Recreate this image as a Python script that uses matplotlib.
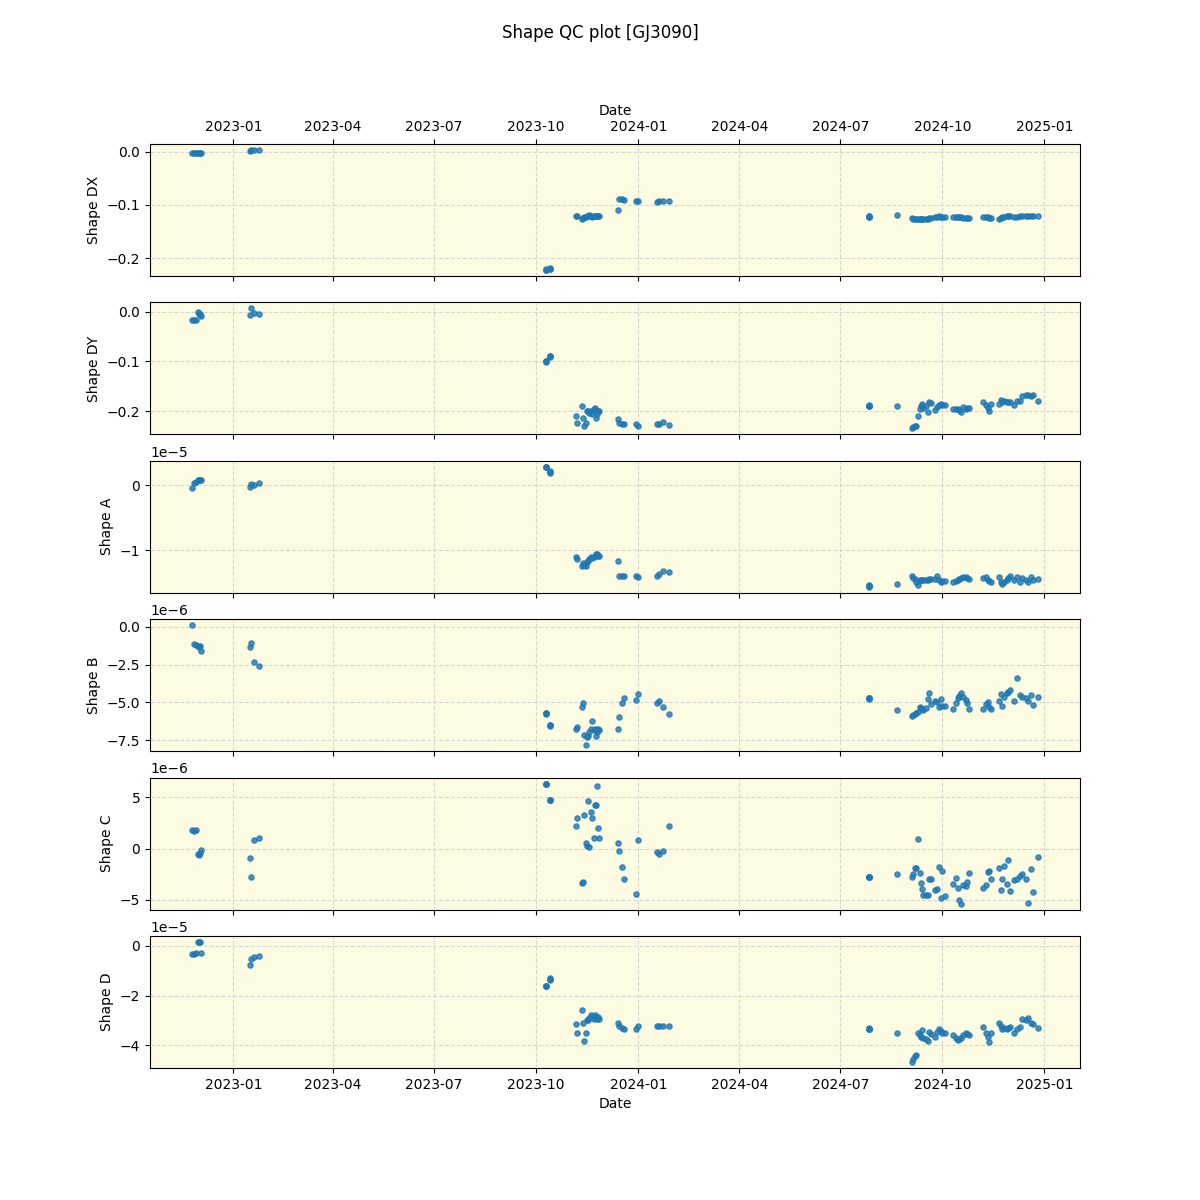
import numpy as np
import pandas as pd
import matplotlib
matplotlib.use("Agg")
import matplotlib.pyplot as plt

TARGET = "GJ3090"
OUT_FILE = "out.png"

# observation dates (one entry per exposure)
obs_dates = [
    # late 2022
    "2022-11-25", "2022-11-27", "2022-11-28", "2022-11-30", "2022-12-01", "2022-12-02", "2022-12-03",
    # Jan 2023
    "2023-01-16", "2023-01-17", "2023-01-20", "2023-01-24",
    # Oct 2023
    "2023-10-10", "2023-10-10", "2023-10-10", "2023-10-13", "2023-10-13", "2023-10-13",
    # Nov 2023
    "2023-11-06", "2023-11-07", "2023-11-11", "2023-11-12", "2023-11-13", "2023-11-15", "2023-11-16",
    "2023-11-17", "2023-11-18", "2023-11-19", "2023-11-20", "2023-11-22", "2023-11-23", "2023-11-24",
    "2023-11-25", "2023-11-26", "2023-11-27",
    # Dec 2023 - Jan 2024
    "2023-12-14", "2023-12-15", "2023-12-17", "2023-12-19", "2023-12-30", "2024-01-01",
    "2024-01-18", "2024-01-20", "2024-01-23", "2024-01-29",
    # Jul - Aug 2024
    "2024-07-27", "2024-07-27", "2024-07-27", "2024-07-27", "2024-08-21",
    # Sep - Dec 2024
    "2024-09-04", "2024-09-05", "2024-09-06", "2024-09-07", "2024-09-09", "2024-09-11", "2024-09-12",
    "2024-09-13", "2024-09-14", "2024-09-16", "2024-09-18", "2024-09-19", "2024-09-21", "2024-09-24",
    "2024-09-26", "2024-09-28", "2024-09-30", "2024-10-01", "2024-10-03", "2024-10-11", "2024-10-13",
    "2024-10-15", "2024-10-16", "2024-10-18", "2024-10-20", "2024-10-22", "2024-10-23", "2024-10-25",
    "2024-11-07", "2024-11-09", "2024-11-11", "2024-11-12", "2024-11-14", "2024-11-21", "2024-11-23",
    "2024-11-24", "2024-11-26", "2024-11-28", "2024-11-29", "2024-12-01", "2024-12-05", "2024-12-07",
    "2024-12-10", "2024-12-12", "2024-12-15", "2024-12-17", "2024-12-20", "2024-12-22", "2024-12-26",
]

shape_dx = [
    -0.003, -0.003, -0.002, -0.003, -0.002, -0.003, -0.003,
    0.002, 0.003, 0.003, 0.003,
    -0.222, -0.221, -0.222, -0.220, -0.221, -0.219,
    -0.121, -0.121, -0.126, -0.125, -0.123, -0.122, -0.121,
    -0.120, -0.118, -0.121, -0.122, -0.120, -0.121, -0.121,
    -0.121, -0.121, -0.121,
    -0.110, -0.089, -0.088, -0.090, -0.092, -0.093,
    -0.094, -0.093, -0.092, -0.092,
    -0.121, -0.122, -0.121, -0.122, -0.119,
    -0.125, -0.126, -0.126, -0.127, -0.126, -0.126, -0.127,
    -0.126, -0.127, -0.126, -0.127, -0.124, -0.124, -0.122,
    -0.122, -0.121, -0.122, -0.123, -0.123, -0.122, -0.123,
    -0.123, -0.123, -0.123, -0.124, -0.124, -0.124, -0.124,
    -0.122, -0.123, -0.123, -0.124, -0.124, -0.126, -0.125,
    -0.123, -0.122, -0.121, -0.121, -0.120, -0.122, -0.123,
    -0.120, -0.121, -0.121, -0.120, -0.120, -0.120, -0.120,
]

shape_dy = [
    -0.017, -0.016, -0.017, -0.001, -0.005, -0.004, -0.009,
    -0.007, 0.007, -0.003, -0.005,
    -0.100, -0.099, -0.101, -0.090, -0.092, -0.088,
    -0.211, -0.225, -0.190, -0.214, -0.230, -0.225, -0.199,
    -0.199, -0.203, -0.200, -0.205, -0.195, -0.193, -0.214,
    -0.205, -0.200, -0.200,
    -0.216, -0.225, -0.226, -0.227, -0.226, -0.230,
    -0.226, -0.226, -0.222, -0.229,
    -0.189, -0.188, -0.190, -0.189, -0.189,
    -0.235, -0.233, -0.231, -0.230, -0.211, -0.195, -0.190,
    -0.185, -0.193, -0.190, -0.201, -0.181, -0.183, -0.197,
    -0.191, -0.188, -0.186, -0.187, -0.187, -0.195, -0.195,
    -0.196, -0.198, -0.201, -0.191, -0.195, -0.193, -0.193,
    -0.181, -0.188, -0.193, -0.199, -0.186, -0.185, -0.177,
    -0.181, -0.179, -0.181, -0.181, -0.181, -0.188, -0.179,
    -0.179, -0.170, -0.168, -0.168, -0.170, -0.168, -0.180,
]

# Shape A, in units of 1e-5
shape_a = [
    -0.05, 0.03, 0.05, 0.07, 0.075, 0.08, 0.08,
    -0.035, 0.015, 0.0, 0.025,
    0.28, 0.27, 0.28, 0.19, 0.21, 0.20,
    -1.11, -1.14, -1.24, -1.20, -1.22, -1.24, -1.18,
    -1.16, -1.14, -1.10, -1.12, -1.10, -1.09, -1.06,
    -1.06, -1.09, -1.09,
    -1.17, -1.39, -1.40, -1.40, -1.39, -1.41,
    -1.39, -1.36, -1.32, -1.34,
    -1.55, -1.56, -1.55, -1.54, -1.52,
    -1.40, -1.42, -1.44, -1.48, -1.53, -1.45, -1.46,
    -1.46, -1.45, -1.45, -1.45, -1.44, -1.44, -1.44,
    -1.39, -1.45, -1.48, -1.47, -1.47, -1.49, -1.47,
    -1.46, -1.44, -1.43, -1.41, -1.41, -1.43, -1.44,
    -1.43, -1.41, -1.45, -1.47, -1.49, -1.41, -1.48,
    -1.52, -1.48, -1.45, -1.42, -1.40, -1.45, -1.41,
    -1.48, -1.43, -1.45, -1.49, -1.41, -1.45, -1.44,
]

# Shape B, in units of 1e-6
shape_b = [
    0.10, -1.15, -1.19, -1.26, -1.35, -1.30, -1.61,
    -1.35, -1.05, -2.34, -2.56,
    -5.72, -5.75, -5.70, -6.50, -6.48, -6.52,
    -6.78, -6.61, -5.28, -5.06, -7.16, -7.82, -7.27,
    -7.20, -6.94, -6.78, -6.23, -6.80, -6.78, -7.23,
    -6.94, -6.78, -6.80,
    -6.78, -5.95, -5.06, -4.73, -4.84, -4.46,
    -5.06, -4.90, -5.32, -5.79,
    -4.73, -4.70, -4.76, -4.73, -5.52,
    -5.88, -5.82, -5.79, -5.72, -5.66, -5.28, -5.35,
    -5.44, -5.52, -5.35, -4.77, -4.40, -5.13, -4.91,
    -4.99, -5.28, -4.77, -5.22, -5.22, -5.44, -5.06,
    -4.69, -4.55, -4.40, -4.62, -4.84, -5.06, -5.44,
    -5.44, -5.13, -4.99, -5.30, -5.40, -4.91, -4.46,
    -5.22, -4.62, -4.40, -4.30, -4.18, -4.91, -3.36,
    -4.51, -4.62, -4.69, -4.91, -4.51, -5.17, -4.62,
]

# Shape C, in units of 1e-6
shape_c = [
    1.86, 1.76, 1.80, -0.52, -0.59, -0.45, -0.13,
    -0.91, -2.77, 0.85, 1.05,
    6.34, 6.30, 6.36, 4.77, 4.80, 4.75,
    2.25, 3.00, -3.36, -3.26, 3.26, 0.55, 0.25,
    4.70, 0.17, 3.60, 3.00, 1.05, 4.31, 4.31,
    6.14, 2.03, 1.05,
    0.55, -0.23, -1.80, -2.97, -4.41, 0.85,
    -0.33, -0.52, -0.23, 2.25,
    -2.76, -2.74, -2.78, -2.76, -2.48,
    -2.81, -2.50, -1.90, -1.90, 0.95, -2.38, -3.36,
    -3.95, -4.51, -4.51, -4.51, -2.97, -2.97, -4.02,
    -3.95, -1.79, -4.83, -2.22, -4.61, -3.46, -2.87,
    -3.85, -5.06, -5.39, -3.53, -3.69, -3.26, -2.38,
    -3.85, -3.53, -2.28, -2.16, -2.94, -1.90, -4.08,
    -2.94, -1.73, -3.46, -1.11, -4.12, -3.04, -2.94,
    -2.65, -2.48, -2.94, -5.32, -1.99, -4.25, -0.81,
]

# Shape D, in units of 1e-5
shape_d = [
    -0.32, -0.31, -0.30, 0.15, 0.15, 0.16, -0.29,
    -0.76, -0.53, -0.45, -0.40,
    -1.63, -1.60, -1.62, -1.33, -1.30, -1.35,
    -3.13, -3.49, -2.56, -3.10, -3.81, -3.49, -2.99,
    -2.99, -2.89, -2.76, -2.85, -2.93, -2.76, -2.85,
    -2.93, -2.85, -2.93,
    -3.10, -3.23, -3.30, -3.36, -3.36, -3.23,
    -3.23, -3.23, -3.22, -3.22,
    -3.33, -3.31, -3.35, -3.33, -3.49,
    -4.67, -4.55, -4.43, -4.40, -3.52, -3.60, -3.65,
    -3.39, -3.69, -3.75, -3.83, -3.47, -3.55, -3.65,
    -3.47, -3.36, -3.43, -3.50, -3.52, -3.60, -3.69,
    -3.80, -3.75, -3.69, -3.60, -3.49, -3.55, -3.60,
    -3.25, -3.49, -3.65, -3.87, -3.52, -3.09, -3.23,
    -3.33, -3.29, -3.33, -3.29, -3.25, -3.52, -3.36,
    -3.25, -2.93, -2.99, -2.89, -3.12, -3.16, -3.29,
]

panel_labels = ["Shape DX", "Shape DY", "Shape A", "Shape B", "Shape C", "Shape D"]


def main():
    dates = pd.to_datetime(obs_dates)
    series = [
        np.array(shape_dx),
        np.array(shape_dy),
        np.array(shape_a) * 1e-5,
        np.array(shape_b) * 1e-6,
        np.array(shape_c) * 1e-6,
        np.array(shape_d) * 1e-5,
    ]

    fig, axes = plt.subplots(6, 1, figsize=(12, 12), sharex=True)
    fig.suptitle(f"Shape QC plot [{TARGET}]")

    for ax, values, label in zip(axes, series, panel_labels):
        ax.set_facecolor("#fdfce2")
        ax.scatter(dates, values, s=14, color="#1f77b4", alpha=0.8)
        ax.set_ylabel(label)
        ax.grid(True, linestyle="--", color="lightgray", alpha=0.9)
        ax.set_axisbelow(True)

    # date axis repeated on top of first panel
    axes[0].tick_params(axis="x", top=True, labeltop=True)
    axes[0].xaxis.set_label_position("top")
    axes[0].set_xlabel("Date")
    axes[-1].set_xlabel("Date")

    fig.savefig(OUT_FILE, dpi=100)


if __name__ == "__main__":
    main()
